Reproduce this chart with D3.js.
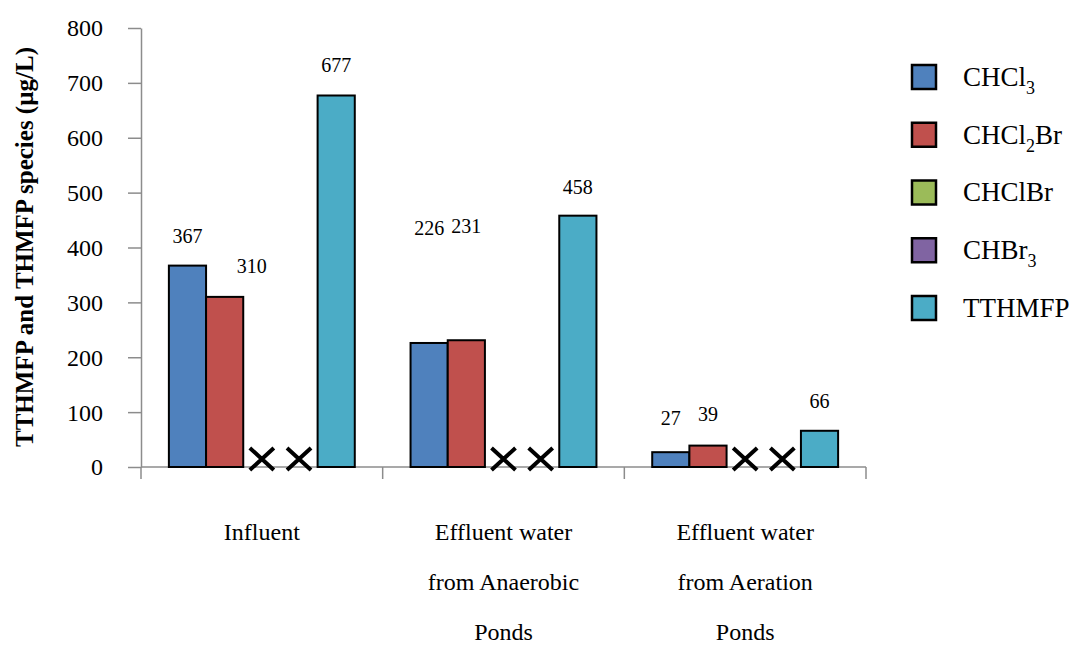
<!DOCTYPE html>
<html lang="en">
<head>
    <meta charset="UTF-8">
    <title>TTHMFP and THMFP species</title>
    <script src="https://d3js.org/d3.v7.min.js"></script>
    <style>
        body { margin: 0; background: #fff; }
        svg text { font-family: 'Liberation Serif', 'DejaVu Serif', serif; fill: #000; }
        .axis path, .axis line { stroke: #8c8c8c; stroke-width: 1.5px; }
        .bar { stroke: #000; stroke-width: 2px; }
    </style>
</head>
<body>
    <svg id="chart"></svg>
    <script>
        const width = 1077;
        const height = 646;
        const serif = "'Liberation Serif', 'DejaVu Serif', serif";

        // data
        const categories = ['Influent', 'Effluent water from Anaerobic Ponds', 'Effluent water from Aeration Ponds'];
        const categoryLines = [['Influent'], ['Effluent water', 'from Anaerobic', 'Ponds'], ['Effluent water', 'from Aeration', 'Ponds']];
        const seriesNames = ['CHCl3', 'CHCl2Br', 'CHClBr', 'CHBr3', 'TTHMFP'];
        const chcl3 = [367, 226, 27];
        const chcl2br = [310, 231, 39];
        const chclbr = [null, null, null];   // not detected -> drawn as X
        const chbr3 = [null, null, null];
        const tthmfp = [677, 458, 66];
        const yTicks = [0, 100, 200, 300, 400, 500, 600, 700, 800];
        const colors = ['#4F81BD', '#C0504D', '#9BBB59', '#8064A2', '#4BACC6'];

        // legend text pieces: [main, subscript, rest]
        const legendParts = [['CHCl', '3', ''], ['CHCl', '2', 'Br'], ['CHClBr', '', ''], ['CHBr', '3', ''], ['TTHMFP', '', '']];

        // hand placed value labels (px offset from bar top centre)
        const labelOffsets = [
            [[0, -29], [0, -115], [0, -34]],
            [[27, -30], [0, -114], [0, -31]],
            null,
            null,
            [[0, -30], [0, -28], [0, -29]]
        ];

        const seriesValues = [chcl3, chcl2br, chclbr, chbr3, tthmfp];

        const svg = d3.select('#chart')
            .attr('width', width)
            .attr('height', height)
            .style('font-family', serif);

        const y = d3.scaleLinear().domain([0, 800]).range([467, 28]);
        const x = d3.scaleBand().domain(categories).range([141, 866]);
        const xs = d3.scaleBand().domain(seriesNames).range([0, x.bandwidth()])
            .paddingInner(0).paddingOuter(0.75);

        // y axis
        const yAxis = svg.append('g')
            .attr('class', 'axis')
            .attr('transform', 'translate(141,0)')
            .call(d3.axisLeft(y).tickValues(yTicks).tickSize(13).tickSizeOuter(0).tickPadding(25));
        yAxis.attr('font-family', null);
        yAxis.selectAll('text')
            .style('font-family', serif)
            .style('font-size', '24px')
            .attr('dy', '0.33em');

        // x axis
        const xAxisG = svg.append('g').attr('class', 'axis');
        xAxisG.append('line')
            .attr('x1', 141).attr('x2', 866)
            .attr('y1', y(0)).attr('y2', y(0));
        const xEdges = categories.map(c => x(c)).concat([x(categories[2]) + x.bandwidth()]);
        xAxisG.selectAll('.xtick')
            .data(xEdges)
            .enter().append('line')
            .attr('x1', d => d).attr('x2', d => d)
            .attr('y1', y(0)).attr('y2', y(0) + 12);

        // bars
        seriesNames.forEach((s, si) => {
            const vals = seriesValues[si];
            vals.forEach((v, ci) => {
                const bx = x(categories[ci]) + xs(s);
                if (v === null) {
                    // not detected marker
                    const cx = bx + xs.bandwidth() / 2;
                    const cy = y(0) - 8;
                    svg.append('path')
                        .attr('d', `M${cx - 12},${cy - 11}L${cx + 12},${cy + 11}M${cx - 12},${cy + 11}L${cx + 12},${cy - 11}`)
                        .attr('stroke', '#000')
                        .attr('stroke-width', 4);
                    return;
                }
                svg.append('rect')
                    .attr('class', 'bar')
                    .attr('x', bx)
                    .attr('y', y(v))
                    .attr('width', xs.bandwidth())
                    .attr('height', y(0) - y(v))
                    .attr('fill', colors[si]);
                const off = labelOffsets[si][ci];
                svg.append('text')
                    .attr('x', bx + xs.bandwidth() / 2 + off[0])
                    .attr('y', y(v) + off[1])
                    .attr('text-anchor', 'middle')
                    .attr('dy', '0.33em')
                    .style('font-family', serif)
                    .style('font-size', '20px')
                    .text(v);
            });
        });

        // category labels
        categories.forEach((c, ci) => {
            categoryLines[ci].forEach((line, li) => {
                svg.append('text')
                    .attr('x', x(c) + x.bandwidth() / 2)
                    .attr('y', 532 + li * 50)
                    .attr('text-anchor', 'middle')
                    .attr('dy', '0.33em')
                    .style('font-family', serif)
                    .style('font-size', '24px')
                    .text(line);
            });
        });

        // y title
        svg.append('text')
            .attr('transform', 'translate(25,247) rotate(-90)')
            .attr('text-anchor', 'middle')
            .attr('dy', '0.33em')
            .style('font-family', serif)
            .style('font-size', '25px')
            .style('font-weight', 'bold')
            .text('TTHMFP and THMFP  species (µg/L)');

        // legend
        const legend = svg.append('g');
        legendParts.forEach((p, i) => {
            const ly = 77 + i * 57.75;
            legend.append('rect')
                .attr('x', 912).attr('y', ly - 12)
                .attr('width', 24).attr('height', 24)
                .attr('fill', colors[i])
                .attr('stroke', '#000').attr('stroke-width', 2.5);
            const t = legend.append('text')
                .attr('x', 963).attr('y', ly)
                .attr('dy', '0.33em')
                .style('font-family', serif)
                .style('font-size', '27px');
            t.append('tspan').text(p[0]);
            if (p[1]) t.append('tspan').attr('dy', 8).style('font-size', '18px').text(p[1]);
            if (p[2]) t.append('tspan').attr('dy', -8).text(p[2]);
        });
    </script>
</body>
</html>
